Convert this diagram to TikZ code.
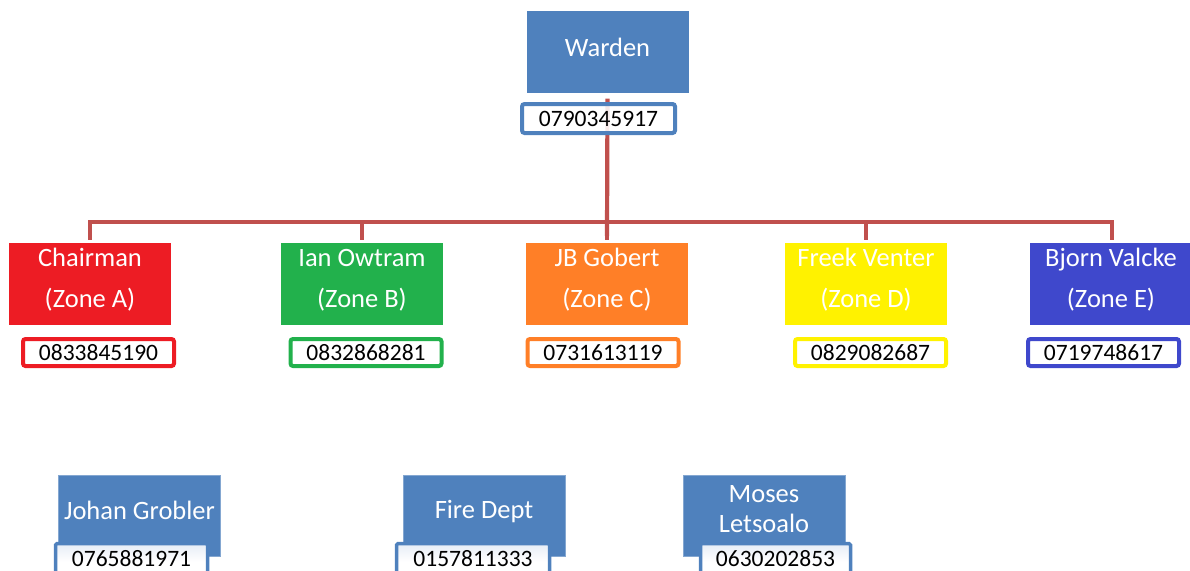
\documentclass[tikz,border=0pt]{standalone}
\usepackage{fontspec}
\setmainfont{Carlito}
\definecolor{cblue}{HTML}{4F81BD}
\definecolor{cline}{HTML}{C0504D}
\definecolor{zred}{HTML}{ED1C24}
\definecolor{zgreen}{HTML}{22B14C}
\definecolor{zorange}{HTML}{FF7F27}
\definecolor{zyellow}{HTML}{FFF200}
\definecolor{zblue}{HTML}{3F48CC}
\definecolor{plight}{HTML}{E6ECF6}
\tikzset{
  namefont/.style={font=\fontsize{26.5}{41}\selectfont},
  numfont/.style={font=\fontsize{23.5}{28}\selectfont},
  box/.style={draw=none, inner sep=0pt, minimum width=162pt, minimum height=82pt},
  wbox/.style={box, fill=cblue, text=white, namefont},
  zbox/.style={box, fill=#1},
  ztext/.style={namefont, text=white, align=center, inner sep=0pt},
  phone/.style={draw=#1, line width=4pt, rounded corners=2.5pt, fill=white, fill opacity=0.88, text opacity=1,
     inner sep=0pt, minimum width=151pt, minimum height=27pt, numfont, text=black},
  bphone/.style={draw=cblue, line width=3.5pt, rounded corners=1.5pt, top color=plight, bottom color=white, middle color=white,
     inner sep=0pt, minimum width=152pt, minimum height=36pt, numfont, text=black},
  bbox/.style={box, fill=cblue, draw=cblue!70!white, line width=0.6pt, minimum height=81pt, minimum width=162pt},
  conn/.style={draw=cline, line width=4.2pt},
}
\begin{document}
\begin{tikzpicture}[x=1pt,y=-1pt]
\useasboundingbox (0,0) rectangle (1190,570);
% top
\node[wbox] (warden) at (607.5,51.5) {\raisebox{9pt}{Warden}};
\coordinate (bus) at (607,222);
\draw[conn, shorten <=6pt] (warden.south) -- ([yshift=-14pt]bus);
% zone boxes
\node[zbox=zred] (chair) at (90,284) {};
\node[zbox=zgreen] (ian) at (362,284) {};
\node[zbox=zorange] (jb) at (607,284) {};
\node[zbox=zyellow] (freek) at (866,284) {};
\node[zbox=zblue, minimum width=164pt] (bjorn) at (1112,284) {};
\foreach \n in {chair,ian,jb,freek,bjorn}
  \draw[conn, shorten >=3pt] (bus) -| (\n.north);
\node[phone=cblue, minimum width=153pt, minimum height=29pt] (wph) at (598.5,118.5) {0790345917};
\node[ztext] at ([yshift=4pt]chair.center) {Chairman\\(Zone A)};
\node[ztext] at ([yshift=4pt]ian.center) {Ian Owtram\\(Zone B)};
\node[ztext] at ([yshift=4pt]jb.center) {JB Gobert\\(Zone C)};
\node[ztext] at ([yshift=4pt]freek.center) {Freek Venter\\(Zone D)};
\node[ztext] at ([yshift=4pt,xshift=-1pt]bjorn.center) {Bjorn Valcke\\(Zone E)};
\node[phone=zred] (chairph) at (98.5,352.5) {0833845190};
\node[phone=zgreen] (ianph) at (366,352.5) {0832868281};
\node[phone=zorange] (jbph) at (603,352.5) {0731613119};
\node[phone=zyellow] (freekph) at (870.5,352.5) {0829082687};
\node[phone=zblue] (bjornph) at (1103.5,352.5) {0719748617};
% bottom
\node[bbox] (johan) at (139.5,515.5) {};
\node[ztext] at ([yshift=5.5pt]johan.center) {Johan Grobler};
\node[bphone, anchor=north west] (johanph) at (53.75,541.75) {\raisebox{6.5pt}{0765881971}};
\node[bbox] (fire) at (484,515.5) {};
\node[ztext] at ([yshift=4pt]fire.center) {Fire Dept};
\node[bphone, anchor=north west, minimum width=153pt] (fireph) at (394.75,541.75) {\raisebox{6.5pt}{0157811333}};
\node[bbox] (moses) at (764,515.5) {};
\node[ztext, font=\fontsize{26.5}{30}\selectfont] at ([yshift=6.5pt]moses.center) {Moses\\Letsoalo};
\node[bphone, anchor=north west, minimum width=150pt] (mosesph) at (698.75,541.75) {\raisebox{6.5pt}{0630202853}};
\end{tikzpicture}
\end{document}
